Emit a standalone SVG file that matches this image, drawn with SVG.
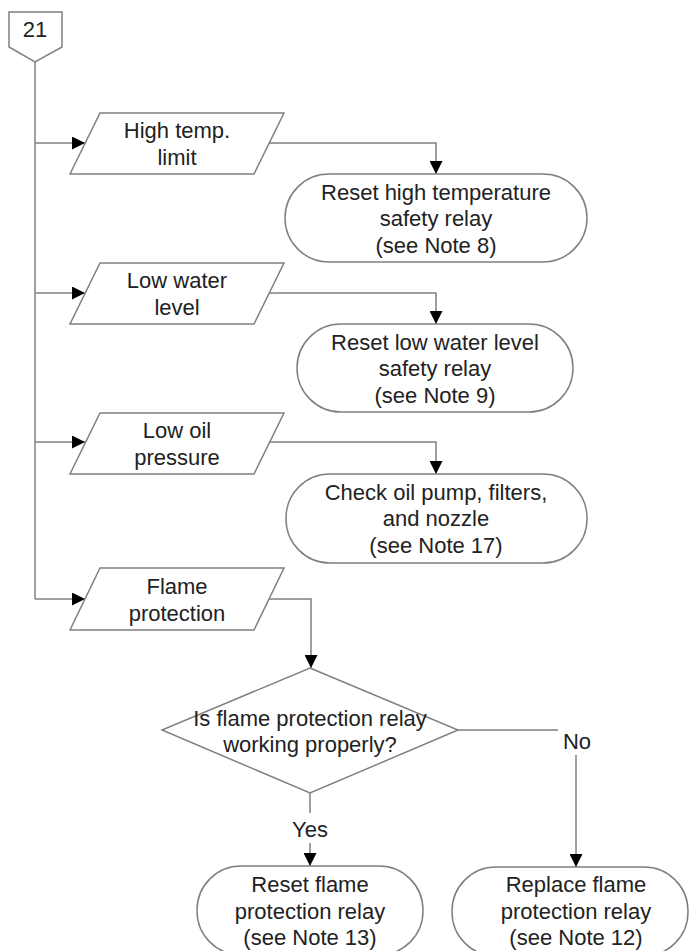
<svg xmlns="http://www.w3.org/2000/svg" width="700" height="951" viewBox="0 0 700 951">
<defs>
<style>
.s{fill:#fff;stroke:#808080;stroke-width:1.5}
.c{fill:none;stroke:#808080;stroke-width:1.5}
.t{font-family:"Liberation Sans",Arial,sans-serif;font-size:22px;fill:#222;text-anchor:middle}
</style>
<marker id="ah" viewBox="0 0 10 10" refX="10" refY="5" markerWidth="13" markerHeight="13" markerUnits="userSpaceOnUse" orient="auto">
<path d="M0,0 L10,5 L0,10 z" fill="#000"/>
</marker>
</defs>
<rect width="700" height="951" fill="#fff"/>
<g id="connectors">
<path class="c" d="M35,62 V599"/>
<path class="c" d="M35,143 H85" marker-end="url(#ah)"/>
<path class="c" d="M35,293 H85" marker-end="url(#ah)"/>
<path class="c" d="M35,442 H85" marker-end="url(#ah)"/>
<path class="c" d="M35,599 H85" marker-end="url(#ah)"/>
<path class="c" d="M269,143 H436 V174" marker-end="url(#ah)"/>
<path class="c" d="M269,293 H436 V324" marker-end="url(#ah)"/>
<path class="c" d="M269,442 H436 V474" marker-end="url(#ah)"/>
<path class="c" d="M269,599 H311 V668" marker-end="url(#ah)"/>
<path class="c" d="M458,730 H558"/>
<path class="c" d="M576,755 V867" marker-end="url(#ah)"/>
<path class="c" d="M310,793 V813"/>
<path class="c" d="M310,843 V866" marker-end="url(#ah)"/>
<text class="t" x="577" y="749">No</text>
<text class="t" x="310" y="837">Yes</text>
</g>
<g id="start21">
<path class="s" d="M9,12 H62 V47 L35,62 L9,47 Z"/>
<text class="t" x="35" y="37">21</text>
</g>
<g id="p1">
<path class="s" d="M100,113 H284 L254,174 H70 Z"/>
<text class="t" x="177" y="138">High temp.</text>
<text class="t" x="177" y="165">limit</text>
</g>
<g id="t1">
<rect class="s" x="285" y="174" width="302" height="88" rx="44" ry="44"/>
<text class="t" x="436" y="200">Reset high temperature</text>
<text class="t" x="436" y="226">safety relay</text>
<text class="t" x="436" y="253">(see Note 8)</text>
</g>
<g id="p2">
<path class="s" d="M100,263 H284 L254,324 H70 Z"/>
<text class="t" x="177" y="288">Low water</text>
<text class="t" x="177" y="315">level</text>
</g>
<g id="t2">
<rect class="s" x="297" y="324" width="276" height="88" rx="44" ry="44"/>
<text class="t" x="435" y="350">Reset low water level</text>
<text class="t" x="435" y="376">safety relay</text>
<text class="t" x="435" y="403">(see Note 9)</text>
</g>
<g id="p3">
<path class="s" d="M100,413 H284 L254,474 H70 Z"/>
<text class="t" x="177" y="438">Low oil</text>
<text class="t" x="177" y="465">pressure</text>
</g>
<g id="t3">
<rect class="s" x="286" y="474" width="301" height="89" rx="44" ry="44"/>
<text class="t" x="436" y="500">Check oil pump, filters,</text>
<text class="t" x="436" y="526">and nozzle</text>
<text class="t" x="436" y="553">(see Note 17)</text>
</g>
<g id="p4">
<path class="s" d="M100,568 H284 L254,630 H70 Z"/>
<text class="t" x="177" y="594">Flame</text>
<text class="t" x="177" y="621">protection</text>
</g>
<g id="d1">
<path class="s" d="M310,668 L458,730 L310,793 L162,730 Z"/>
<text class="t" x="310" y="726">Is flame protection relay</text>
<text class="t" x="310" y="752">working properly?</text>
</g>
<g id="t4">
<rect class="s" x="197" y="866" width="226" height="89" rx="44" ry="44"/>
<text class="t" x="310" y="892">Reset flame</text>
<text class="t" x="310" y="919">protection relay</text>
<text class="t" x="310" y="945">(see Note 13)</text>
</g>
<g id="t5">
<rect class="s" x="452" y="867" width="236" height="89" rx="44" ry="44"/>
<text class="t" x="576" y="892">Replace flame</text>
<text class="t" x="576" y="919">protection relay</text>
<text class="t" x="576" y="945">(see Note 12)</text>
</g>
</svg>
